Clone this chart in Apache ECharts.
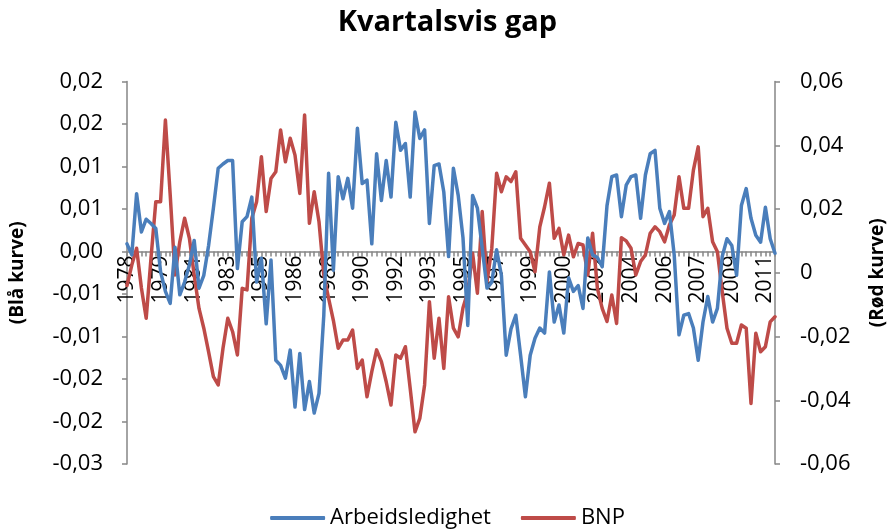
<!DOCTYPE html>
<html>
<head>
<meta charset="utf-8">
<script src="https://cdn.jsdelivr.net/npm/echarts@6/dist/echarts.min.js"></script>
<style>
  html, body { margin: 0; padding: 0; background: #fff; }
  #chart { width: 895px; height: 529px; }
</style>
</head>
<body>
<div id="chart"></div>
<script>
// ---- data ----
const years = [1978,1979,1980,1981,1982,1983,1984,1985,1986,1987,1988,1989,1990,1991,1992,1993,1994,
               1995,1996,1997,1998,1999,2000,2001,2002,2003,2004,2005,2006,2007,2008,2009,2010,2011];
const quarters = ['K1','K2','K3','K4'];

const leftTickLabels = ['-0,03','-0,02','-0,02','-0,01','-0,01','0,00','0,01','0,01','0,02','0,02'];
const rightTickLabels = ['-0,06','-0,04','-0,02','0','0,02','0,04','0,06'];

const arbeidsledighet = [
  0.0009,-0.0004,0.0068,0.0023,0.0038,0.0033,0.0027,-0.0024,-0.0047,-0.0061,
  0.0005,-0.0051,-0.0036,-0.0016,0.0013,-0.0043,-0.0028,0.0007,0.0051,0.0098,
  0.0103,0.0107,0.0107,-0.0020,0.0035,0.0041,0.0064,-0.0036,-0.0008,-0.0085,
  -0.0010,-0.0128,-0.0134,-0.0149,-0.0116,-0.0183,-0.0120,-0.0186,-0.0153,-0.0190,
  -0.0167,-0.0075,0.0092,-0.0022,0.0088,0.0062,0.0086,0.0051,0.0145,0.0080,
  0.0084,0.0009,0.0115,0.0060,0.0107,0.0064,0.0152,0.0119,0.0127,0.0064,
  0.0164,0.0133,0.0143,0.0033,0.0101,0.0103,0.0070,-0.0006,0.0098,0.0066,
  0.0016,-0.0087,0.0066,0.0051,0.0004,-0.0043,-0.0036,0.0002,-0.0028,-0.0122,
  -0.0091,-0.0075,-0.0122,-0.0171,-0.0122,-0.0102,-0.0090,-0.0096,-0.0024,-0.0083,
  -0.0063,-0.0096,-0.0031,-0.0047,-0.0040,-0.0067,0.0016,-0.0004,-0.0007,-0.0018,
  0.0054,0.0088,0.0090,0.0041,0.0078,0.0088,0.0090,0.0039,0.0090,0.0115,
  0.0119,0.0051,0.0033,0.0047,-0.0004,-0.0098,-0.0075,-0.0073,-0.0090,-0.0128,
  -0.0083,-0.0053,-0.0083,-0.0067,-0.0006,0.0015,0.0007,-0.0028,0.0054,0.0074,
  0.0039,0.0019,0.0011,0.0052,0.0015,-0.0002
];

const bnp = [
  -0.0040,0.0024,0.0077,-0.0048,-0.0143,0.0046,0.0223,0.0223,0.0479,0.0244,
  -0.0007,0.0097,0.0171,0.0108,-0.0007,-0.0112,-0.0174,-0.0248,-0.0326,-0.0352,
  -0.0237,-0.0143,-0.0185,-0.0258,-0.0049,-0.0054,0.0171,0.0223,0.0364,0.0192,
  0.0296,0.0317,0.0448,0.0348,0.0422,0.0369,0.0249,0.0495,0.0155,0.0254,
  0.0160,-0.0007,-0.0080,-0.0150,-0.0237,-0.0211,-0.0211,-0.0180,-0.0300,-0.0274,
  -0.0389,-0.0310,-0.0242,-0.0279,-0.0342,-0.0415,-0.0258,-0.0268,-0.0232,-0.0363,
  -0.0499,-0.0457,-0.0352,-0.0091,-0.0268,-0.0143,-0.0300,-0.0075,-0.0174,-0.0201,
  -0.0110,-0.0060,0.0061,-0.0064,0.0192,-0.0028,0.0077,0.0312,0.0254,0.0301,
  0.0286,0.0317,0.0108,0.0087,0.0066,0.0003,0.0144,0.0207,0.0281,0.0108,
  0.0139,0.0056,0.0118,0.0050,0.0092,0.0087,-0.0007,0.0124,-0.0049,-0.0112,
  -0.0153,-0.0070,-0.0159,0.0110,0.0100,0.0077,-0.0007,0.0035,0.0056,0.0124,
  0.0144,0.0129,0.0097,0.0150,0.0181,0.0301,0.0202,0.0202,0.0322,0.0395,
  0.0176,0.0202,0.0097,0.0066,-0.0059,-0.0174,-0.0221,-0.0221,-0.0164,-0.0174,
  -0.0410,-0.0190,-0.0248,-0.0232,-0.0154,-0.0138
];

// categories: one per quarter
const categories = [];
years.forEach(y => quarters.forEach(q => categories.push(y + q)));

const FONT = 'Open Sans';
const GRID_TOP = 81.5, GRID_BOTTOM = 65, CHART_H = 529;
const LEFT_MIN = -0.025, LEFT_MAX = 0.02;
const plotH = CHART_H - GRID_TOP - GRID_BOTTOM;
// distance from plot bottom up to the left axis zero line
const zeroOffset = plotH * (0 - LEFT_MIN) / (LEFT_MAX - LEFT_MIN);

const chart = echarts.init(document.getElementById('chart'), null, { renderer: 'canvas' });

chart.setOption({
  animation: false,
  backgroundColor: '#ffffff',
  title: {
    text: 'Kvartalsvis gap',
    left: 'center',
    top: 3,
    textStyle: { fontFamily: FONT, fontWeight: 'bold', fontSize: 29, color: '#000' }
  },
  legend: {
    bottom: -5,
    left: 'center',
    itemGap: 30,
    itemWidth: 55,
    itemHeight: 4,
    icon: 'roundRect',
    textStyle: { fontFamily: FONT, fontSize: 22, color: '#000' },
    data: ['Arbeidsledighet', 'BNP']
  },
  grid: { left: 125, right: 118, top: GRID_TOP, bottom: GRID_BOTTOM, containLabel: false },
  xAxis: {
    type: 'category',
    data: categories,
    boundaryGap: false,
    offset: -zeroOffset,
    axisLine: { onZero: false, lineStyle: { color: '#868686', width: 1.5 } },
    axisTick: { show: true, interval: 0, length: 5, lineStyle: { color: '#868686', width: 1.5 } },
    axisLabel: {
      interval: 6,
      rotate: 90,
      margin: 4,
      fontFamily: FONT,
      fontSize: 21,
      color: '#000',
      formatter: v => v.slice(0, 4)
    },
    splitLine: { show: false }
  },
  yAxis: [
    {
      type: 'value',
      min: LEFT_MIN, max: LEFT_MAX, interval: 0.005,
      position: 'left',
      name: '(Blå kurve)',
      nameLocation: 'middle',
      nameRotate: 90,
      nameGap: 100,
      nameTextStyle: { fontFamily: FONT, fontWeight: 'bold', fontSize: 19, color: '#000' },
      axisLine: { show: true, onZero: false, lineStyle: { color: '#868686', width: 1.5 } },
      axisTick: { show: true, length: 5, lineStyle: { color: '#868686', width: 1.5 } },
      axisLabel: {
        fontFamily: FONT, fontSize: 22, color: '#000', margin: 24,
        formatter: v => leftTickLabels[Math.round((v - LEFT_MIN) / 0.005)]
      },
      splitLine: { show: false }
    },
    {
      type: 'value',
      min: -0.06, max: 0.06, interval: 0.02,
      position: 'right',
      name: '(Rød kurve)',
      nameLocation: 'middle',
      nameRotate: 90,
      nameGap: 93,
      nameTextStyle: { fontFamily: FONT, fontWeight: 'bold', fontSize: 19, color: '#000' },
      axisLine: { show: true, onZero: false, lineStyle: { color: '#868686', width: 1.5 } },
      axisTick: { show: true, length: 5, lineStyle: { color: '#868686', width: 1.5 } },
      axisLabel: {
        fontFamily: FONT, fontSize: 22, color: '#000', margin: 25,
        formatter: v => rightTickLabels[Math.round((v + 0.06) / 0.02)]
      },
      splitLine: { show: false }
    }
  ],
  series: [
    {
      name: 'Arbeidsledighet',
      type: 'line',
      yAxisIndex: 0,
      data: arbeidsledighet,
      showSymbol: false,
      symbol: 'none',
      lineStyle: { color: '#4A7EBB', width: 3.5, join: 'round', cap: 'round' },
      itemStyle: { color: '#4A7EBB' },
      z: 3
    },
    {
      name: 'BNP',
      type: 'line',
      yAxisIndex: 1,
      data: bnp,
      showSymbol: false,
      symbol: 'none',
      lineStyle: { color: '#BE4B48', width: 3.5, join: 'round', cap: 'round' },
      itemStyle: { color: '#BE4B48' },
      z: 2
    }
  ]
});
</script>
</body>
</html>
